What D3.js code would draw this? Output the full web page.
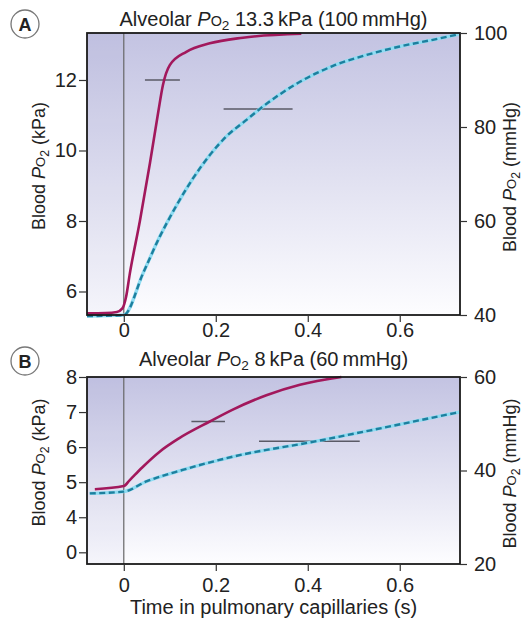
<!DOCTYPE html>
<html>
<head>
<meta charset="utf-8">
<script src="https://cdn.jsdelivr.net/npm/d3@7"></script>
<style>
  body { margin: 0; background: #fff; }
  text { font-family: "Liberation Sans", Arial, sans-serif; fill: #222; }
</style>
</head>
<body>
<script>
// ---- data (time in s, blood Po2 in kPa) ----
const timeTicks = [0, 0.2, 0.4, 0.6];
const timeLabels = ["0", "0.2", "0.4", "0.6"];

// panel A, alveolar Po2 13.3 kPa
const aSolid = [[-0.08, 5.38], [-0.04, 5.39], [-0.015, 5.42], [-0.003, 5.52], [0.005, 5.85],
  [0.013, 6.5], [0.035, 8.0], [0.057, 9.65], [0.075, 11.1], [0.085, 11.85], [0.1, 12.42],
  [0.136, 12.8], [0.187, 13.04], [0.259, 13.2], [0.386, 13.31]];
const aDashed = [[-0.08, 5.3], [0, 5.33], [0.042, 6.52], [0.078, 7.55], [0.115, 8.45],
  [0.15, 9.2], [0.187, 9.87], [0.223, 10.4], [0.266, 10.86], [0.296, 11.18], [0.383, 11.95],
  [0.455, 12.4], [0.528, 12.71], [0.6, 12.95], [0.672, 13.14], [0.73, 13.3]];
// horizontal marks: [t start, t end, kPa]
const aMarks = [[0.046, 0.122, 12.0], [0.217, 0.367, 11.18]];
const aLeftTicks = [6, 8, 10, 12];
const aLeftLabels = ["6", "8", "10", "12"];
const aRightTicks = [40, 60, 80, 100];

// panel B, alveolar Po2 8 kPa
const bSolid = [[-0.063, 4.8], [0, 4.89], [0.013, 5.06], [0.04, 5.42], [0.078, 5.87],
  [0.12, 6.25], [0.187, 6.73], [0.237, 7.07], [0.31, 7.48], [0.383, 7.78], [0.473, 8.0]];
const bDashed = [[-0.074, 4.68], [0, 4.73], [0.049, 5.02], [0.128, 5.35], [0.238, 5.73],
  [0.419, 6.17], [0.563, 6.55], [0.73, 7.0]];
const bMarks = [[0.147, 0.22, 6.73], [0.294, 0.513, 6.17]];
const bLeftTicks = [3, 4, 5, 6, 7, 8];
const bLeftLabels = ["0", "4", "5", "6", "7", "8"];
const bRightTicks = [20, 40, 60];

const KPA_PER_MMHG = 0.13333;

// ---- layout ----
const W = 526, H = 625;
const left = 87, right = 460;

const svg = d3.select("body").append("svg")
  .attr("width", W)
  .attr("height", H);

const defs = svg.append("defs");
const grad = defs.append("linearGradient")
  .attr("id", "bg")
  .attr("x1", 0).attr("y1", 0).attr("x2", 0).attr("y2", 1);
grad.append("stop").attr("offset", 0).attr("stop-color", "#c3c3e2");
grad.append("stop").attr("offset", 1).attr("stop-color", "#fdfdff");

const x = d3.scaleLinear().domain([-0.08, 0.731]).range([left, right]);

// writes "P" italic + small "O" + subscript "2" into a text element
function po2(t, size) {
  t.append("tspan").style("font-style", "italic").text("P");
  t.append("tspan").style("font-size", (size * 0.72) + "px").text("O");
  t.append("tspan").style("font-size", (size * 0.68) + "px").attr("dy", 4).text("2");
}

function drawPanel(p) {
  const y = d3.scaleLinear().domain([p.mmHg[0] * KPA_PER_MMHG, p.mmHg[1] * KPA_PER_MMHG])
    .range([p.bottom, p.top]);
  const yR = d3.scaleLinear().domain(p.mmHg).range([p.bottom, p.top]);
  const g = svg.append("g");

  // background
  g.append("rect")
    .attr("x", left).attr("y", p.top)
    .attr("width", right - left).attr("height", p.bottom - p.top)
    .attr("fill", "url(#bg)");
  g.append("rect")
    .attr("x", left).attr("y", p.top)
    .attr("width", x(0) - left).attr("height", p.bottom - p.top)
    .attr("fill", "#8a8ac8").attr("opacity", 0.07);

  // t = 0 line
  g.append("line")
    .attr("x1", x(0)).attr("x2", x(0))
    .attr("y1", p.top).attr("y2", p.bottom)
    .attr("stroke", "#666").attr("stroke-width", 1.2);

  // marks
  g.selectAll(".mark").data(p.marks).enter().append("line")
    .attr("x1", d => x(d[0])).attr("x2", d => x(d[1]))
    .attr("y1", d => y(d[2])).attr("y2", d => y(d[2]))
    .attr("stroke", "#5a5a66").attr("stroke-width", 1.5);

  const line = d3.line()
    .x(d => x(d[0])).y(d => y(d[1]))
    .curve(d3.curveMonotoneX);

  // dashed curve: light cyan under dark teal dashes
  g.append("path").datum(p.dashed)
    .attr("d", line).attr("fill", "none")
    .attr("stroke", "#8fdcf2").attr("stroke-width", 3.4);
  g.append("path").datum(p.dashed)
    .attr("d", line).attr("fill", "none")
    .attr("stroke", "#1d7f9e").attr("stroke-width", 2.4)
    .attr("stroke-dasharray", "6,3.5");

  // solid curve
  g.append("path").datum(p.solid)
    .attr("d", line).attr("fill", "none")
    .attr("stroke", "#a2185c").attr("stroke-width", 2.6)
    .attr("stroke-linejoin", "round");

  // frame
  g.append("rect")
    .attr("x", left).attr("y", p.top)
    .attr("width", right - left).attr("height", p.bottom - p.top)
    .attr("fill", "none").attr("stroke", "#1a1a1a").attr("stroke-width", 1.8);

  // axes
  const axL = g.append("g")
    .attr("transform", "translate(" + left + ",0)")
    .call(d3.axisLeft(y).tickValues(p.leftTicks)
      .tickFormat((d, i) => p.leftLabels[i]).tickSize(8).tickPadding(2));
  const axR = g.append("g")
    .attr("transform", "translate(" + right + ",0)")
    .call(d3.axisRight(yR).tickValues(p.rightTicks).tickSize(7).tickPadding(7));
  const axB = g.append("g")
    .attr("transform", "translate(0," + p.bottom + ")")
    .call(d3.axisBottom(x).tickValues(timeTicks)
      .tickFormat((d, i) => timeLabels[i]).tickSize(7).tickPadding(p.xPad));
  [axL, axR, axB].forEach(a => {
    a.select(".domain").remove();
    a.selectAll("line").attr("stroke", "#333").attr("stroke-width", 1.2);
    a.selectAll("text").style("font-size", "20px")
      .style("font-family", "'Liberation Sans', Arial, sans-serif").attr("fill", "#222");
  });

  // title
  const title = g.append("text")
    .attr("x", (left + right) / 2).attr("y", p.titleY)
    .attr("text-anchor", "middle")
    .style("font-size", "20px");
  title.append("tspan").text("Alveolar ");
  po2(title, 20);
  title.append("tspan").attr("dy", -4).text(p.titleRest);

  // y labels
  const ly = g.append("text")
    .attr("transform", "translate(45," + ((p.top + p.bottom) / 2 - 8) + ") rotate(-90)")
    .attr("text-anchor", "middle")
    .style("font-size", "18px");
  ly.append("tspan").text("Blood ");
  po2(ly, 18);
  ly.append("tspan").attr("dy", -4).text(" (kPa)");

  const ry = g.append("text")
    .attr("transform", "translate(516," + ((p.top + p.bottom) / 2 + 3) + ") rotate(-90)")
    .attr("text-anchor", "middle")
    .style("font-size", "18px");
  ry.append("tspan").text("Blood ");
  po2(ry, 18);
  ry.append("tspan").attr("dy", -4).text(" (mmHg)");

  // panel letter
  g.append("circle")
    .attr("cx", 25).attr("cy", p.letterY).attr("r", 14)
    .attr("fill", "#fff").attr("stroke", "#777").attr("stroke-width", 1.3);
  g.append("text")
    .attr("x", 25).attr("y", p.letterY + 6.5)
    .attr("text-anchor", "middle")
    .style("font-size", "18px").style("font-weight", "bold")
    .text(p.letter);
}

drawPanel({
  top: 33, bottom: 315, mmHg: [40, 100], titleY: 26, xPad: 1,
  solid: aSolid, dashed: aDashed, marks: aMarks,
  leftTicks: aLeftTicks, leftLabels: aLeftLabels, rightTicks: aRightTicks,
  titleRest: " 13.3\u2009kPa (100\u2009mmHg)", letter: "A", letterY: 24
});

drawPanel({
  top: 377, bottom: 564, mmHg: [20, 60], titleY: 366, xPad: 7,
  solid: bSolid, dashed: bDashed, marks: bMarks,
  leftTicks: bLeftTicks, leftLabels: bLeftLabels, rightTicks: bRightTicks,
  titleRest: " 8\u2009kPa (60\u2009mmHg)", letter: "B", letterY: 361
});

// x axis label
svg.append("text")
  .attr("x", (left + right) / 2).attr("y", 614)
  .attr("text-anchor", "middle")
  .style("font-size", "20px")
  .text("Time in pulmonary capillaries (s)");
</script>
</body>
</html>
